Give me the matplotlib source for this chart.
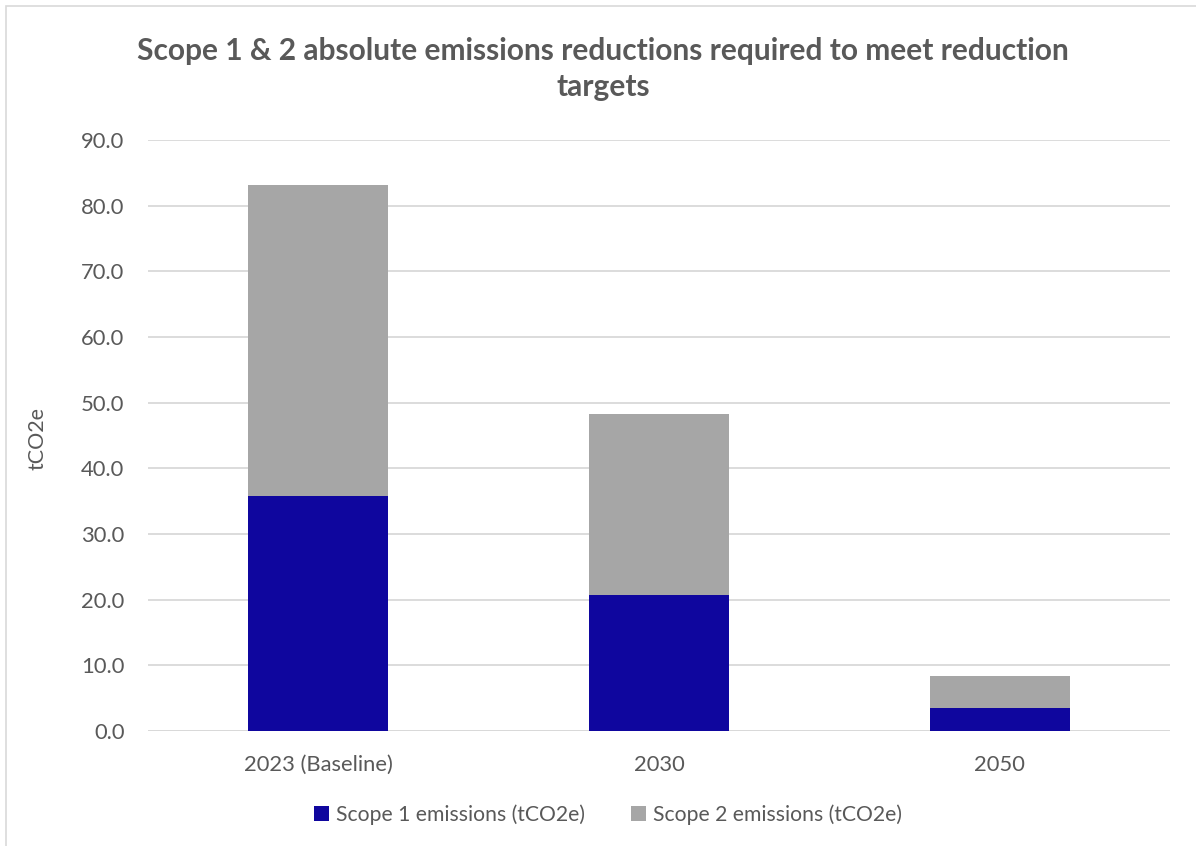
import matplotlib
matplotlib.use("Agg")
import matplotlib.pyplot as plt
from matplotlib.patches import Rectangle
import numpy as np

categories = ["2023 (Baseline)", "2030", "2050"]
scope1 = [35.8, 20.7, 3.5]
scope2 = [47.4, 27.6, 4.9]
series_names = ["Scope 1 emissions (tCO2e)", "Scope 2 emissions (tCO2e)"]
yticks = [0, 10, 20, 30, 40, 50, 60, 70, 80, 90]

plt.rcParams['font.family'] = ['Lato', 'DejaVu Sans']
txt = '#595959'

fig = plt.figure(figsize=(11.96, 8.46), dpi=100)
ax = fig.add_axes([148/1196, 1 - 731/846, (1170-148)/1196, (731-140)/846])

x = np.arange(len(categories))
w = 0.41
ax.bar(x, scope1, w, color='#0f069e', label=series_names[0], zorder=3)
ax.bar(x, scope2, w, bottom=scope1, color='#a6a6a6', label=series_names[1], zorder=3)

ax.set_xlim(-0.5, 2.5)
ax.set_ylim(0, 90)
ax.set_yticks(yticks)
ax.set_yticklabels([f"{v:.1f}" for v in yticks])
ax.set_xticks(x)
ax.set_xticklabels(categories)
ax.tick_params(axis='both', length=0, colors=txt, labelsize=15.8)
ax.tick_params(axis='y', pad=17)
ax.tick_params(axis='x', pad=17)
ax.grid(axis='y', color='#d9d9d9', linewidth=1.3, zorder=0)
for s in ax.spines.values():
    s.set_visible(False)
ax.axhline(0, color='#d9d9d9', linewidth=1.3, zorder=2)

fig.text(38/1196, 1 - 438/846, "tCO2e", rotation=90, ha='center', va='center',
         fontsize=15.5, color=txt)

fig.text(603/1196, 1 - 69/846, "Scope 1 & 2 absolute emissions reductions required to meet reduction\ntargets",
         ha='center', va='center', fontsize=21.5, fontweight='bold', color=txt, linespacing=1.35)

leg = fig.legend(loc='center', bbox_to_anchor=(608/1196, 1 - 815/846), ncol=2, frameon=False,
                 fontsize=15.2, handlelength=0.72, handleheight=0.72, handletextpad=0.3,
                 columnspacing=2.2)
for t in leg.get_texts():
    t.set_color(txt)

fig.patches.append(Rectangle((6/1196, -0.1), 1.2, 1.1 - 6/846, transform=fig.transFigure,
                             fill=False, edgecolor='#d9d9d9', linewidth=1.2))

fig.savefig("out.png", dpi=100, facecolor='white')
